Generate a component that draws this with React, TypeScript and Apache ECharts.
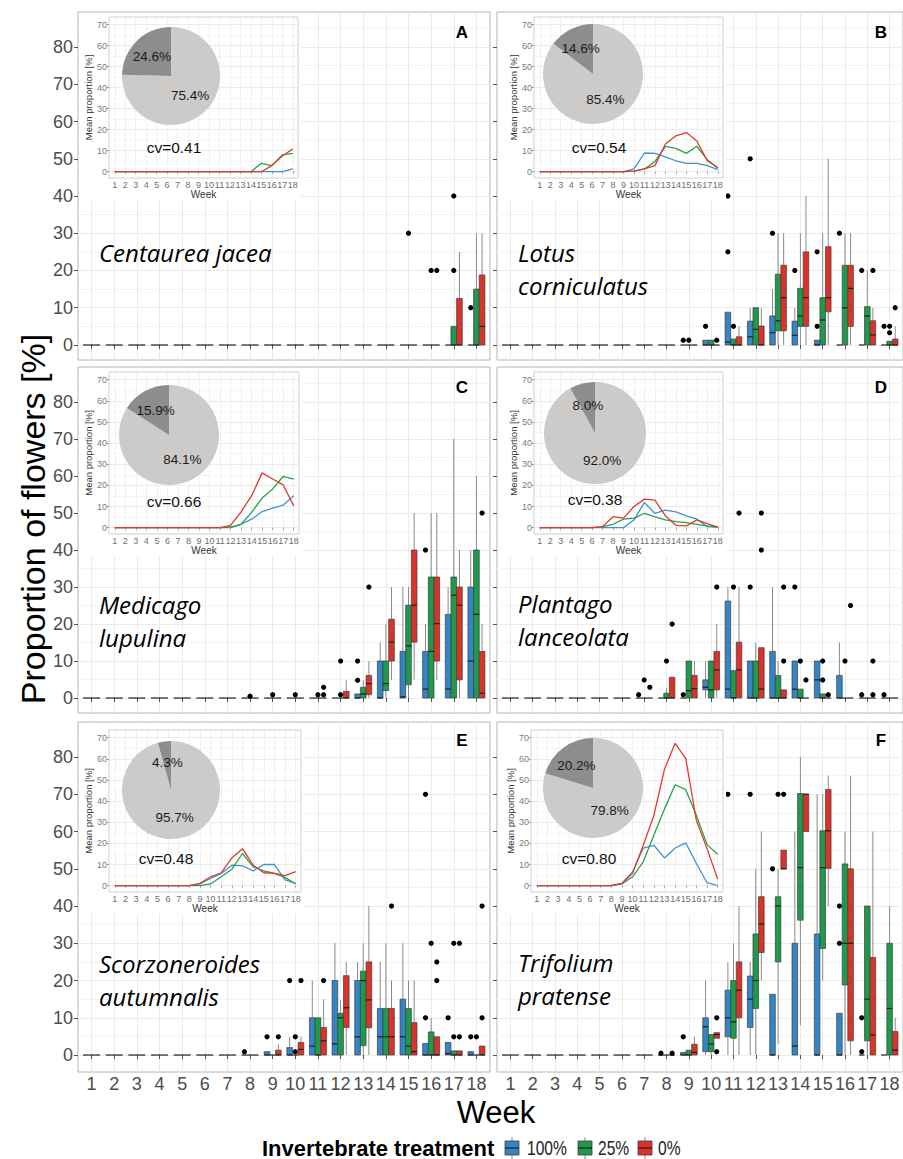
import React, { useEffect, useRef } from "react";
import * as echarts from "echarts";

// ---------- axes / categories ----------
const weeks = [1, 2, 3, 4, 5, 6, 7, 8, 9, 10, 11, 12, 13, 14, 15, 16, 17, 18];
const yTicks = [0, 10, 20, 30, 40, 50, 60, 70, 80];
const yMinorTicks = [5, 15, 25, 35, 45, 55, 65, 75, 85];
const insetTicks = [0, 10, 20, 30, 40, 50, 60, 70];
const insetMinorTicks = [5, 15, 25, 35, 45, 55, 65];
const treatments = ["100%", "25%", "0%"];

// ---------- panel labels ----------
const speciesNames = [
  ["Centaurea jacea"],
  ["Lotus", "corniculatus"],
  ["Medicago", "lupulina"],
  ["Plantago", "lanceolata"],
  ["Scorzoneroides", "autumnalis"],
  ["Trifolium", "pratense"],
];
const panelLetters = ["A", "B", "C", "D", "E", "F"];
const cvValues = ["0.41", "0.54", "0.66", "0.38", "0.48", "0.80"];
const pieMain = [75.4, 85.4, 84.1, 92.0, 95.7, 79.8];
const pieShare = [24.6, 14.6, 15.9, 8.0, 4.3, 20.2];

// ---------- box stats per week: [lower whisker, q1, median, q3, upper whisker] ----------
// A  Centaurea jacea
const jaceaBox100 = [
  [0,0,0,0,0],[0,0,0,0,0],[0,0,0,0,0],[0,0,0,0,0],[0,0,0,0,0],[0,0,0,0,0],
  [0,0,0,0,0],[0,0,0,0,0],[0,0,0,0,0],[0,0,0,0,0],[0,0,0,0,0],[0,0,0,0,0],
  [0,0,0,0,0],[0,0,0,0,0],[0,0,0,0,0],[0,0,0,0,0],[0,0,0,0,0],[0,0,0,0,0],
];
const jaceaBox25 = [
  [0,0,0,0,0],[0,0,0,0,0],[0,0,0,0,0],[0,0,0,0,0],[0,0,0,0,0],[0,0,0,0,0],
  [0,0,0,0,0],[0,0,0,0,0],[0,0,0,0,0],[0,0,0,0,0],[0,0,0,0,0],[0,0,0,0,0],
  [0,0,0,0,0],[0,0,0,0,0],[0,0,0,0,0],[0,0,0,0,0],[0,0,0,5,5],[0,0,0,15,30],
];
const jaceaBox0 = [
  [0,0,0,0,0],[0,0,0,0,0],[0,0,0,0,0],[0,0,0,0,0],[0,0,0,0,0],[0,0,0,0,0],
  [0,0,0,0,0],[0,0,0,0,0],[0,0,0,0,0],[0,0,0,0,0],[0,0,0,0,0],[0,0,0,0,0],
  [0,0,0,0,0],[0,0,0,0,0],[0,0,0,0,0],[0,0,0,0,0],[0,0,0,12.5,25],[0,0,5,18.8,30],
];
const jaceaOut100 = [[18, 10]];
const jaceaOut25 = [[15, 30], [16, 20], [17, 20], [17, 40]];
const jaceaOut0 = [[16, 20]];

// B  Lotus corniculatus
const lotusBox100 = [
  [0,0,0,0,0],[0,0,0,0,0],[0,0,0,0,0],[0,0,0,0,0],[0,0,0,0,0],[0,0,0,0,0],
  [0,0,0,0,0],[0,0,0,0,0],[0,0,0,0,0],[0,0,0,1.3,1.3],[0,0,0.8,8.8,8.8],[0,0,2.2,6.4,10],
  [0,0,3.3,7.8,15],[0,0,2.6,6.4,10],[0,0,0,1.3,1.3],[0,0,0,0,0],[0,0,0,0,0],[0,0,0,0,0],
];
const lotusBox25 = [
  [0,0,0,0,0],[0,0,0,0,0],[0,0,0,0,0],[0,0,0,0,0],[0,0,0,0,0],[0,0,0,0,0],
  [0,0,0,0,0],[0,0,0,0,0],[0,0,0,0,0],[0,0,0,1.3,1.3],[0,0,0,1.6,1.6],[0,0,4.2,10,10],
  [0,3.8,6.5,19,30],[0,5,7.8,15.2,30],[0,0,6.7,12.7,30],[0,0,10,21.4,30],[0,0,7.8,10.3,20],[0,0,0,1,1],
];
const lotusBox0 = [
  [0,0,0,0,0],[0,0,0,0,0],[0,0,0,0,0],[0,0,0,0,0],[0,0,0,0,0],[0,0,0,0,0],
  [0,0,0,0,0],[0,0,0,0,0],[0,0,0,0,0],[0,0,0,0,0],[0,0,0,2.2,5],[0,0,0,5.1,10],
  [0,3.8,12.7,21.4,30],[0,5,12.7,25,40],[0,8.9,12.7,26.4,50],[0,5,15.2,21.4,30],[0,0,2.7,6.5,10],[0,0,0,1.6,5],
];
const lotusOut100 = [[9, 1.3], [10, 5], [11, 25], [11, 40], [12, 50], [13, 30], [14, 20], [15, 5], [15, 25], [16, 30], [17, 20], [18, 5]];
const lotusOut25 = [[9, 1.3], [11, 5], [18, 3.3], [18, 5]];
const lotusOut0 = [[10, 1.3], [17, 20], [18, 10]];

// C  Medicago lupulina
const medBox100 = [
  [0,0,0,0,0],[0,0,0,0,0],[0,0,0,0,0],[0,0,0,0,0],[0,0,0,0,0],[0,0,0,0,0],
  [0,0,0,0,0],[0,0,0,0,0],[0,0,0,0,0],[0,0,0,0,0],[0,0,0,0,0],[0,0,0,0,0],
  [0,0,0,1.1,1.1],[0,0,0,10,15],[0,0,0.3,12.6,30],[0,0,2.4,12.6,20],[0,0,2.4,22.6,30],[0,0,10,30,40],
];
const medBox25 = [
  [0,0,0,0,0],[0,0,0,0,0],[0,0,0,0,0],[0,0,0,0,0],[0,0,0,0,0],[0,0,0,0,0],
  [0,0,0,0,0],[0,0,0,0,0],[0,0,0,0,0],[0,0,0,0,0],[0,0,0,0,0],[0,0,0,0,0],
  [0,0,1.1,2.9,4.8],[0,2,3.9,10,20],[0,3.6,14.1,25.1,30],[0,0,12.6,32.7,50],[0,0,27.8,32.7,70],[0,0,22.6,40,60],
];
const medBox0 = [
  [0,0,0,0,0],[0,0,0,0,0],[0,0,0,0,0],[0,0,0,0,0],[0,0,0,0,0],[0,0,0,0,0],
  [0,0,0,0,0],[0,0,0,0,0],[0,0,0,0,0],[0,0,0,0,0],[0,0,0,0,0],[0,0,0,1.8,4.8],
  [0,0.9,3.9,6.1,10],[4.8,10,15.1,21.3,30],[5,15.1,25.1,40,50],[4.8,10,20.1,32.7,50],[0,4.9,25.1,30,40],[0,0,1.3,12.6,20],
];
const medOut100 = [[13, 4.8], [13, 10], [16, 40]];
const medOut25 = [[8, 0.5], [9, 0.9], [10, 0.9], [11, 0.9], [12, 0.9], [12, 10]];
const medOut0 = [[11, 0.9], [11, 2.9], [13, 30], [18, 50]];

// D  Plantago lanceolata
const planBox100 = [
  [0,0,0,0,0],[0,0,0,0,0],[0,0,0,0,0],[0,0,0,0,0],[0,0,0,0,0],[0,0,0,0,0],
  [0,0,0,0,0],[0,0,0,0,0],[0,0,0,0,0],[0,2.2,2.9,4.9,10],[0,0,2.4,26.2,30],[0,0,0,10,10],
  [0,0,0,12.6,30],[0,0,2.4,10,10],[0,0,4.9,10,10],[0,0,0,6.1,15],[0,0,0,0,0],[0,0,0,0,0],
];
const planBox25 = [
  [0,0,0,0,0],[0,0,0,0,0],[0,0,0,0,0],[0,0,0,0,0],[0,0,0,0,0],[0,0,0,0,0],
  [0,0,0,0,0],[0,0,0,1.3,2.7],[0,0,2,10,10],[0,0,2.2,10,10],[0,0,0,7.4,7.4],[0,0,0,10,15],
  [0,0,0,6.1,10],[0,0,0,2.4,2.4],[0,0,0,1.1,1.1],[0,0,0,0,0],[0,0,0,0,0],[0,0,0,0,0],
];
const planBox0 = [
  [0,0,0,0,0],[0,0,0,0,0],[0,0,0,0,0],[0,0,0,0,0],[0,0,0,0,0],[0,0,0,0,0],
  [0,0,0,0,0],[0,0,0,5.6,5.6],[0,0,2.5,6.1,10],[0,2.2,7.6,12.6,20],[0,0,7.6,15.1,30],[0,0,2.4,13.6,13.6],
  [0,0,0,2.2,2.2],[0,0,0,0,0],[0,0,0,0,0],[0,0,0,0,0],[0,0,0,0,0],[0,0,0,0,0],
];
const planOut100 = [[7, 0.9], [9, 0.9], [12, 30], [14, 30], [17, 0.9], [18, 0.9]];
const planOut25 = [[7, 4.9], [8, 10], [11, 30], [14, 10], [15, 4.9], [15, 10], [16, 10]];
const planOut0 = [[7, 2.9], [8, 20], [10, 30], [11, 50], [12, 40], [12, 50], [13, 10], [13, 30], [14, 4.9], [15, 0.9], [16, 25], [17, 0.9], [17, 10]];

// E  Scorzoneroides autumnalis
const scoBox100 = [
  [0,0,0,0,0],[0,0,0,0,0],[0,0,0,0,0],[0,0,0,0,0],[0,0,0,0,0],[0,0,0,0,0],
  [0,0,0,0,0],[0,0,0,0,0],[0,0,0,0.9,0.9],[0,0,0,2,4.9],[0,0,2.4,10,20],[0,0,3,20,30],
  [0,0,4.9,20,25],[0,0,4.9,12.5,25],[0,0,4.9,15,30],[0,0,0,3.1,3.1],[0,0,0.4,3.4,3.4],[0,0,0,0.9,0.9],
];
const scoBox25 = [
  [0,0,0,0,0],[0,0,0,0,0],[0,0,0,0,0],[0,0,0,0,0],[0,0,0,0,0],[0,0,0,0,0],
  [0,0,0,0,0],[0,0,0,0,0],[0,0,0,0,0],[0,0,0,0,0],[0,0,0,10,10],[0,0,10,11.2,14.8],
  [0,2.5,20,22.5,30],[0,0,4.9,12.5,30],[0,0,2.4,12.5,20],[0,0,0,6.2,10],[0,0,0,1.1,1.1],[0,0,0,0,0],
];
const scoBox0 = [
  [0,0,0,0,0],[0,0,0,0,0],[0,0,0,0,0],[0,0,0,0,0],[0,0,0,0,0],[0,0,0,0,0],
  [0,0,0,0,0],[0,0,0,0,0],[0,0,0,1.3,2.9],[0,0,1.5,3.4,4.9],[0,0,3.8,7.4,15],[0,7.4,12.7,21.3,25],
  [0,7.3,14.8,25,40],[0,0,4.9,12.5,20],[0,0,0.9,8.7,20],[0,0,0,4.9,4.9],[0,0,0,1.1,1.1],[0,0,0,2.4,2.4],
];
const scoOut100 = [[8, 0.9], [9, 4.9], [10, 20], [16, 10], [16, 70], [17, 10], [18, 4.9]];
const scoOut25 = [[10, 0.9], [10, 4.9], [16, 30], [17, 4.9], [17, 30], [18, 4.9]];
const scoOut0 = [[9, 4.9], [10, 20], [11, 20], [14, 40], [16, 20], [16, 25], [17, 4.9], [17, 30], [18, 10], [18, 40]];

// F  Trifolium pratense
const triBox100 = [
  [0,0,0,0,0],[0,0,0,0,0],[0,0,0,0,0],[0,0,0,0,0],[0,0,0,0,0],[0,0,0,0,0],
  [0,0,0,0,0],[0,0,0,0,0],[0,0,0,0.7,0.7],[0,0.9,7.6,10,20],[0,4.9,10,17.4,25],[0,7.4,15,21.2,25],
  [0,0,0,16.3,16.3],[0,0,2.4,30,60],[0,0,0,32.5,70],[0,0,0,11.2,11.2],[0,0,0,0,0],[0,0,0,0,0],
];
const triBox25 = [
  [0,0,0,0,0],[0,0,0,0,0],[0,0,0,0,0],[0,0,0,0,0],[0,0,0,0,0],[0,0,0,0,0],
  [0,0,0,0,0],[0,0,0,0,0],[0,0,0,1.3,1.3],[0,0.9,3,5.5,5.5],[0,4.5,8.9,20,30],[0,12.5,20,32.5,50],
  [3,25,40,42.5,50],[8,36.2,50.3,70.2,80],[20,28.6,50.3,60.2,70],[0,18.8,30,51.3,60],[0,3.8,15,40,40],[0,0,12.5,30,40],
];
const triBox0 = [
  [0,0,0,0,0],[0,0,0,0,0],[0,0,0,0,0],[0,0,0,0,0],[0,0,0,0,0],[0,0,0,0,0],
  [0,0,0,0,0],[0,0,0,0,0],[0,0,0.7,2.9,4.9],[4.5,4.5,5.5,6,6],[0,10,17.4,25,40],[20,27.5,35.2,42.5,60],
  [50,50,50,55,55],[60,60,70,70,70],[40,50.1,60.2,71.3,75],[0,3.8,30,50,75],[0,0,5.4,26.2,60],[0,0,1.3,6.3,10],
];
const triOut100 = [[8, 0.5], [9, 4.9], [11, 70], [12, 70], [13, 50], [16, 30], [16, 40], [17, 0.9], [17, 10]];
const triOut25 = [[13, 70]];
const triOut0 = [[8, 0.5], [10, 0.9], [10, 10], [13, 70]];

// ---------- inset: mean proportion per week ----------
const jaceaMean100 = [0,0,0,0,0,0,0,0,0,0,0,0,0,0,0,0,0,1.3];
const jaceaMean25 = [0,0,0,0,0,0,0,0,0,0,0,0,0,0,4.0,2.9,8.0,8.7];
const jaceaMean0 = [0,0,0,0,0,0,0,0,0,0,0,0,0,0,0,2.9,7.5,10.8];
const lotusMean100 = [0,0,0,0,0,0,0,0,0,1.3,8.9,8.7,7.1,5.2,4.0,4.0,2.9,1.0];
const lotusMean25 = [0,0,0,0,0,0,0,0,0,0.3,1.3,4.8,12.1,11.1,8.7,12.1,5.7,1.6];
const lotusMean0 = [0,0,0,0,0,0,0,0,0,0.3,1.3,2.9,13.2,17.1,18.6,14.6,5.2,2.0];
const medMean100 = [0,0,0,0,0,0,0,0,0,0,0,0,1.6,4.0,7.6,9.2,10.7,15.1];
const medMean25 = [0,0,0,0,0,0,0,0,0,0,0,0.3,1.6,7.2,14.0,18.3,24.3,23.0];
const medMean0 = [0,0,0,0,0,0,0,0,0,0,0,1.1,7.5,15.1,25.9,23.0,20.2,10.3];
const planMean100 = [0,0,0,0,0,0,0,0,0,3.7,11.9,6.7,8.3,7.5,5.6,4.0,0.5,0.3];
const planMean25 = [0,0,0,0,0,0,0.5,1.6,4.0,4.5,6.8,5.1,3.7,2.9,2.4,1.6,0.8,0.3];
const planMean0 = [0,0,0,0,0,0,0.5,5.2,4.5,10.0,13.5,13.0,5.6,1.1,0.8,3.7,1.9,0.3];
const scoMean100 = [0,0,0,0,0,0,0,0,0.8,3.4,5.8,9.7,9.4,7.0,10.0,10.0,2.7,1.1];
const scoMean25 = [0,0,0,0,0,0,0,0,0,0.8,4.2,7.8,15.2,8.9,7.0,5.8,3.9,0.8];
const scoMean0 = [0,0,0,0,0,0,0,0,1.1,4.2,6.1,13.1,17.5,9.7,6.1,5.8,4.7,6.6];
const triMean100 = [0,0,0,0,0,0,0,0,1.1,6.6,17.8,19.1,13.1,17.8,20.2,10.5,1.4,0];
const triMean25 = [0,0,0,0,0,0,0,0,0.8,4.2,11.3,23.8,36.3,47.7,45.4,33.2,19.4,14.9];
const triMean0 = [0,0,0,0,0,0,0,0,1.1,5.8,19.1,33.2,55.1,67.3,60.1,30.8,17.5,3.1];

const panelBoxes = [
  [jaceaBox100, jaceaBox25, jaceaBox0],
  [lotusBox100, lotusBox25, lotusBox0],
  [medBox100, medBox25, medBox0],
  [planBox100, planBox25, planBox0],
  [scoBox100, scoBox25, scoBox0],
  [triBox100, triBox25, triBox0],
];
const panelOutliers = [
  [jaceaOut100, jaceaOut25, jaceaOut0],
  [lotusOut100, lotusOut25, lotusOut0],
  [medOut100, medOut25, medOut0],
  [planOut100, planOut25, planOut0],
  [scoOut100, scoOut25, scoOut0],
  [triOut100, triOut25, triOut0],
];
const panelMeans = [
  [jaceaMean100, jaceaMean25, jaceaMean0],
  [lotusMean100, lotusMean25, lotusMean0],
  [medMean100, medMean25, medMean0],
  [planMean100, planMean25, planMean0],
  [scoMean100, scoMean25, scoMean0],
  [triMean100, triMean25, triMean0],
];

// ---------- styling / layout ----------
const BOX_COLORS = ["#3385C6", "#1F9A4C", "#DA3329"];
const LINE_COLORS = ["#3F92D2", "#25A24F", "#E2392E"];
const PIE_LIGHT = "#cdcaca";
const PIE_DARK = "#8e8c8c";
const FONT = "'Liberation Sans', Arial, sans-serif";
const BOX_W = 0.25;
const DODGE = [-0.25, 0, 0.25];

const LAYOUT = [
  { left: 78, top: 12, height: 348, yMin: -4.03, yMax: 89.4, inset: { l: 109, r: 298, t: 17, b: 178 }, pie: [171, 76, 49], cv: [174, 147], name: [99, 252], letter: [462, 32] },
  { left: 497, top: 12, height: 348, yMin: -4.03, yMax: 89.4, inset: { l: 534, r: 723, t: 17, b: 178 }, pie: [593, 74, 50], cv: [599, 147], name: [518, 252], letter: [881, 32] },
  { left: 78, top: 367, height: 346, yMin: -4.05, yMax: 89.46, inset: { l: 109, r: 299, t: 372, b: 534 }, pie: [169, 435, 50], cv: [174, 501], name: [99, 604], letter: [462, 387] },
  { left: 497, top: 367, height: 346, yMin: -4.05, yMax: 89.46, inset: { l: 534, r: 723, t: 372, b: 534 }, pie: [595, 433, 51], cv: [595, 499], name: [518, 603], letter: [881, 387] },
  { left: 78, top: 722, height: 350, yMin: -4.56, yMax: 89.4, inset: { l: 109, r: 301, t: 730, b: 892 }, pie: [171, 790, 49], cv: [166, 858], name: [99, 963], letter: [462, 740] },
  { left: 497, top: 722, height: 350, yMin: -4.56, yMax: 89.4, inset: { l: 531, r: 723, t: 730, b: 892 }, pie: [593, 788, 50], cv: [589, 858], name: [518, 962], letter: [881, 740] },
];
const PANEL_W = 412;

function boxRenderer(off: number, color: string) {
  return (_params: any, api: any) => {
    const x = api.value(0) + off;
    const lo = api.coord([x, api.value(1)]);
    const q1 = api.coord([x, api.value(2)]);
    const md = api.coord([x, api.value(3)]);
    const q3 = api.coord([x, api.value(4)]);
    const hi = api.coord([x, api.value(5)]);
    const bw = api.size([BOX_W, 0])[0];
    const children: any[] = [];
    if (q3[1] - hi[1] > 0.3) {
      children.push({ type: "line", shape: { x1: q3[0], y1: q3[1], x2: hi[0], y2: hi[1] }, style: { stroke: "#8a8a8a", lineWidth: 1 } });
    }
    if (lo[1] - q1[1] > 0.3) {
      children.push({ type: "line", shape: { x1: q1[0], y1: q1[1], x2: lo[0], y2: lo[1] }, style: { stroke: "#8a8a8a", lineWidth: 1 } });
    }
    if (q1[1] - q3[1] > 0.3) {
      children.push({ type: "rect", shape: { x: q3[0] - bw / 2, y: q3[1], width: bw, height: q1[1] - q3[1] }, style: { fill: color, stroke: "#3d3d3d", lineWidth: 0.7 } });
    }
    children.push({ type: "line", shape: { x1: md[0] - bw / 2, y1: md[1], x2: md[0] + bw / 2, y2: md[1] }, style: { stroke: "#1e1e1e", lineWidth: 1.2 } });
    return { type: "group", children };
  };
}

function outlierRenderer(off: number) {
  return (_params: any, api: any) => {
    const p = api.coord([api.value(0) + off, api.value(1)]);
    return { type: "circle", shape: { cx: p[0], cy: p[1], r: 2.6 }, style: { fill: "#000" } };
  };
}

function txt(x: number, y: number, text: string, font: string, align: string, extra: any = {}) {
  return {
    type: "text", z: 14, silent: true, x, y, ...extra,
    style: { text, fill: extra.fill || "#000", font, align, verticalAlign: "middle", textAlign: align, textVerticalAlign: "middle" },
  };
}

function buildOption() {
  const gridMain: any[] = [];
  const gridInset: any[] = [];
  const xMain: any[] = [];
  const xInset: any[] = [];
  const yMain: any[] = [];
  const yMinor: any[] = [];
  const yInset: any[] = [];
  const yInsetMinor: any[] = [];
  const series: any[] = [];
  const graphic: any[] = [];

  LAYOUT.forEach((L, p) => {
    const leftCol = p % 2 === 0;
    const bottomRow = p >= 4;
    gridMain.push({ left: L.left, top: L.top, width: PANEL_W, height: L.height, show: true, borderColor: "#b4b4b4", borderWidth: 1, backgroundColor: "#ffffff", containLabel: false, z: 0 });
    xMain.push({
      type: "value", gridIndex: p, min: 0.4, max: 18.6,
      axisLine: { show: false },
      axisTick: { show: true, customValues: weeks, length: 4, lineStyle: { color: "#555" } },
      axisLabel: { show: bottomRow, customValues: weeks, fontSize: 18, color: "#4d4d4d", margin: 3, fontFamily: FONT },
      splitLine: { show: true, lineStyle: { color: "#ebebeb", width: 1 } },
    });
    yMain.push({
      type: "value", gridIndex: p, min: L.yMin, max: L.yMax, position: "left",
      axisLine: { show: false },
      axisTick: { show: true, customValues: yTicks, length: 4, lineStyle: { color: "#555" } },
      axisLabel: { show: leftCol, customValues: yTicks, fontSize: 18, color: "#4d4d4d", margin: 5, fontFamily: FONT },
      splitLine: { show: true, lineStyle: { color: "#ebebeb", width: 1 } },
    });
    yMinor.push({
      type: "value", gridIndex: p, min: L.yMin, max: L.yMax, position: "left",
      axisLine: { show: false },
      axisTick: { show: false, customValues: yMinorTicks },
      axisLabel: { show: false, customValues: yMinorTicks },
      splitLine: { show: true, lineStyle: { color: "#f4f4f4", width: 1 } },
    });

    treatments.forEach((t, k) => {
      series.push({
        type: "custom", name: t, xAxisIndex: p, yAxisIndex: p, z: 2, silent: true,
        renderItem: boxRenderer(DODGE[k], BOX_COLORS[k]),
        encode: { x: 0, y: [1, 2, 3, 4, 5] },
        data: panelBoxes[p][k].map((b, i) => [weeks[i], ...b]),
      });
      series.push({
        type: "custom", name: t, xAxisIndex: p, yAxisIndex: p, z: 3, silent: true,
        renderItem: outlierRenderer(DODGE[k]),
        encode: { x: 0, y: 1 },
        data: panelOutliers[p][k],
      });
    });

    // inset
    const I = L.inset;
    graphic.push({ type: "rect", z: 10, silent: true, shape: { x: L.left + 1, y: L.top + 1, width: I.r + 3 - (L.left + 1), height: I.b + 22 - (L.top + 1) }, style: { fill: "#ffffff" } });
    gridInset.push({ left: I.l, top: I.t, width: I.r - I.l, height: I.b - I.t, show: true, borderColor: "#d0d0d0", borderWidth: 1, backgroundColor: "transparent", containLabel: false, z: 11 });
    xInset.push({
      type: "value", gridIndex: 6 + p, min: 0.45, max: 18.5, z: 11,
      axisLine: { show: false },
      axisTick: { show: true, customValues: weeks, length: 2, lineStyle: { color: "#9a9a9a" } },
      axisLabel: { show: true, customValues: weeks, fontSize: 9, color: "#6e6e6e", margin: 2, fontFamily: FONT },
      splitLine: { show: true, lineStyle: { color: "#ececec", width: 0.8 } },
      name: "Week", nameLocation: "middle", nameGap: 11, nameTextStyle: { fontSize: 10, color: "#333", fontFamily: FONT },
    });
    yInset.push({
      type: "value", gridIndex: 6 + p, min: -3, max: 73.6, z: 11, position: "left",
      axisLine: { show: false },
      axisTick: { show: true, customValues: insetTicks, length: 2, lineStyle: { color: "#9a9a9a" } },
      axisLabel: { show: true, customValues: insetTicks, fontSize: 9, color: "#7a7a7a", margin: 2, fontFamily: FONT },
      splitLine: { show: true, lineStyle: { color: "#e6e6e6", width: 0.8 } },
      name: "Mean proportion [%]", nameLocation: "middle", nameGap: 15, nameRotate: 90, nameTextStyle: { fontSize: 9.5, color: "#333", fontFamily: FONT },
    });
    yInsetMinor.push({
      type: "value", gridIndex: 6 + p, min: -3, max: 73.6, z: 11, position: "left",
      axisLine: { show: false },
      axisTick: { show: false, customValues: insetMinorTicks },
      axisLabel: { show: false, customValues: insetMinorTicks },
      splitLine: { show: true, lineStyle: { color: "#f3f3f3", width: 0.8 } },
    });
    treatments.forEach((t, k) => {
      series.push({
        type: "line", name: t + " mean", xAxisIndex: 6 + p, yAxisIndex: 12 + p, z: 12, silent: true,
        showSymbol: false, symbol: "none", lineStyle: { color: LINE_COLORS[k], width: 1.3 },
        data: panelMeans[p][k].map((v, i) => [weeks[i], v]),
      });
    });
    series.push({
      type: "pie", z: 13, silent: true, center: [L.pie[0], L.pie[1]], radius: L.pie[2],
      startAngle: 90, clockwise: true, avoidLabelOverlap: false,
      label: { show: true, position: "inside", formatter: (q: any) => q.value.toFixed(1) + "%", fontSize: 13.5, color: "#1a1a1a", fontFamily: FONT },
      labelLine: { show: false },
      itemStyle: { borderWidth: 0 },
      emphasis: { disabled: true },
      data: [
        { name: "other", value: pieMain[p], itemStyle: { color: PIE_LIGHT } },
        { name: "share", value: pieShare[p], itemStyle: { color: PIE_DARK } },
      ],
    });
    graphic.push(txt(L.cv[0], L.cv[1], "cv=" + cvValues[p], `15.5px ${FONT}`, "center", { fill: "#111" }));
    speciesNames[p].forEach((line, j) => {
      graphic.push(txt(L.name[0], L.name[1] + j * 33, line, `italic 24px 'Open Sans', sans-serif`, "left"));
    });
    graphic.push(txt(L.letter[0], L.letter[1], panelLetters[p], `bold 17px ${FONT}`, "center"));
  });

  // titles
  graphic.push(txt(33, 519, "Proportion of flowers [%]", `34px ${FONT}`, "center", { rotation: Math.PI / 2 }));
  graphic.push(txt(496, 1112, "Week", `31px ${FONT}`, "center"));

  // legend
  const LEG_Y = 1148;
  graphic.push(txt(262, LEG_Y, "Invertebrate treatment", `bold 22px ${FONT}`, "left"));
  const keyX = [505, 578, 638];
  const labX = [527, 598, 658];
  treatments.forEach((t, k) => {
    const kx = keyX[k];
    graphic.push({ type: "line", z: 14, silent: true, shape: { x1: kx + 7, y1: LEG_Y - 11, x2: kx + 7, y2: LEG_Y + 11 }, style: { stroke: "#8a8a8a", lineWidth: 1 } });
    graphic.push({ type: "rect", z: 15, silent: true, shape: { x: kx, y: LEG_Y - 7, width: 14, height: 14 }, style: { fill: BOX_COLORS[k], stroke: "#3d3d3d", lineWidth: 0.8 } });
    graphic.push({ type: "line", z: 16, silent: true, shape: { x1: kx, y1: LEG_Y, x2: kx + 14, y2: LEG_Y }, style: { stroke: "#1e1e1e", lineWidth: 1.2 } });
    graphic.push(txt(labX[k], LEG_Y, t, `20px ${FONT}`, "left", { scaleX: 0.78, fill: "#222" }));
  });

  return {
    animation: false,
    backgroundColor: "#ffffff",
    grid: [...gridMain, ...gridInset],
    xAxis: [...xMain, ...xInset],
    yAxis: [...yMain, ...yMinor, ...yInset, ...yInsetMinor],
    series,
    graphic,
  };
}

export default function App() {
  const ref = useRef<HTMLDivElement>(null);
  useEffect(() => {
    if (!ref.current) return;
    const chart = echarts.init(ref.current, undefined, { renderer: "svg" });
    chart.setOption(buildOption() as any);
    return () => chart.dispose();
  }, []);
  return <div ref={ref} style={{ position: "absolute", left: 0, top: 0, width: 903, height: 1159 }} />;
}
